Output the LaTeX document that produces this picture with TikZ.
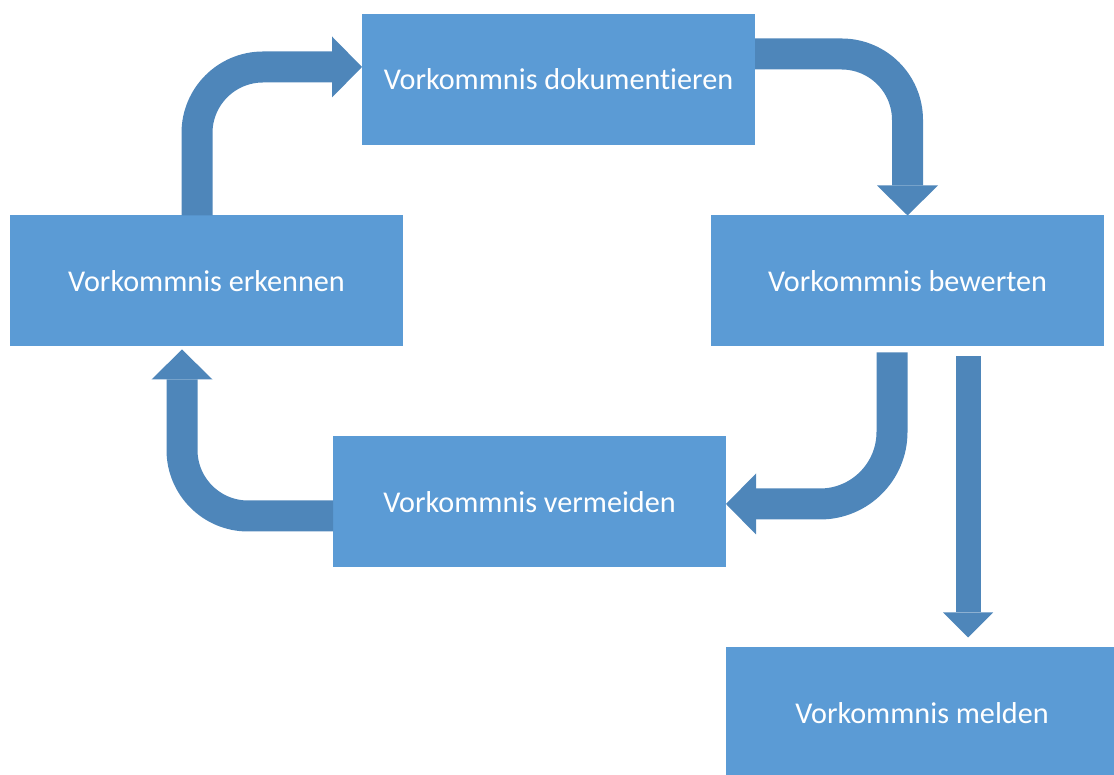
\documentclass[tikz,border=0pt]{standalone}
\usepackage{fontspec}
\setmainfont{Carlito}[Ligatures={NoCommon,NoContextual},Contextuals=NoAlternate]
\usetikzlibrary{arrows.meta,positioning}
\definecolor{stepfill}{HTML}{5B9BD5}
\definecolor{flow}{HTML}{4E86BA}

\begin{document}
\begin{tikzpicture}[x=1pt,y=1pt,
  box/.style={fill=stepfill,text=white,font=\fontsize{30.2}{36}\selectfont,
    minimum width=393pt,minimum height=131pt,inner sep=0pt,outer sep=0pt},
  a/.style={draw=flow,line width=31pt,rounded corners=66pt,
    -{Triangle[width=61pt,length=30pt,line width=0pt]}}
]
\useasboundingbox (0,0) rectangle (1114,775);
\node[box] (erk) at (206.5,494) {Vorkommnis erkennen};
\node[box,right=308pt of erk] (bew) {Vorkommnis bewerten};
\node[box] (doc) at (558.5,695.5) {Vorkommnis dokument\kern0pt ieren};
\node[box] (verm) at (529.5,273) {Vorkommnis vermeiden};
\node[box,below=301pt of bew,xshift=14.5pt] (meld) {Vorkommnis melden};

% the cycle
\draw[a] ([xshift=-9.5pt]erk.north) |- ([yshift=12.5pt]doc.west);
\draw[a] ([yshift=25.5pt]doc.east) -| (bew.north);
\draw[a,rounded corners=72pt] ([xshift=-15.5pt,yshift=-6pt]bew.south) |- ([yshift=-2pt]verm.east);
\draw[a] ([yshift=-14pt]verm.west) -| ([xshift=-24.5pt,yshift=-3pt]erk.south);
% way out
\draw[a,line width=25pt,-{Triangle[width=50pt,length=25pt,line width=0pt]}]
  ([xshift=60.5pt,yshift=-10pt]bew.south) -- ([xshift=46pt,yshift=10pt]meld.north);
\end{tikzpicture}
\end{document}
